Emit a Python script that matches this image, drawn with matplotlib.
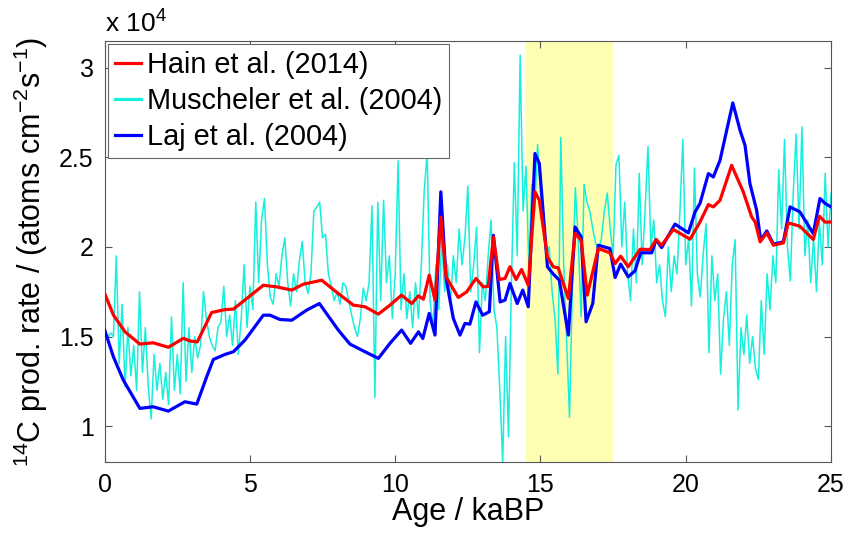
import numpy as np
import matplotlib
matplotlib.use("Agg")
import matplotlib.pyplot as plt

plt.rcParams['font.family'] = ['Liberation Sans', 'DejaVu Sans']
plt.rcParams['mathtext.fontset'] = 'custom'
plt.rcParams['mathtext.rm'] = 'Liberation Sans'
plt.rcParams['mathtext.it'] = 'Liberation Sans:italic'

# Hain et al. (2014), 14C production rate (x 10^4 atoms cm-2 s-1)
hain_age = [0, 0.30, 0.70, 1.21, 1.67, 2.19, 2.71, 2.94, 3.19, 3.68,
            4.14, 4.43, 4.89, 5.46, 5.92, 6.44, 6.84, 7.47, 8.04, 8.56,
            8.96, 9.42, 9.82, 10.22, 10.57, 10.80, 10.97, 11.17, 11.37, 11.57,
            11.75, 12.17, 12.46, 12.78, 13.03, 13.20, 13.38, 13.58, 13.78, 13.95,
            14.16, 14.35, 14.58, 14.81, 14.96, 15.24, 15.44, 15.61, 15.96, 16.19,
            16.40, 16.61, 16.99, 17.39, 17.57, 17.76, 18.02, 18.43, 18.77, 18.98,
            19.17, 19.57, 20.15, 20.49, 20.78, 20.95, 21.18, 21.58, 21.98, 22.27,
            22.39, 22.56, 22.79, 23.02, 23.36, 23.53, 23.93, 24.39, 24.60, 24.80,
            25.0]
hain_rate = [1.74, 1.62, 1.526, 1.458, 1.465, 1.44, 1.49, 1.475, 1.47, 1.634,
             1.65, 1.653, 1.712, 1.786, 1.777, 1.759, 1.792, 1.814, 1.74, 1.675,
             1.666, 1.625, 1.675, 1.731, 1.684, 1.727, 1.708, 1.842, 1.703, 2.167,
             1.833, 1.718, 1.749, 1.824, 1.777, 1.78, 2.056, 1.818, 1.824, 1.889,
             1.818, 1.874, 1.786, 2.307, 2.26, 1.944, 1.889, 1.883, 1.712, 2.075,
             2.037, 1.731, 1.991, 1.967, 1.907, 1.948, 1.889, 1.987, 1.985, 2.041,
             2.009, 2.097, 2.043, 2.139, 2.236, 2.223, 2.26, 2.455, 2.307, 2.167,
             2.139, 2.028, 2.078, 2.009, 2.022, 2.134, 2.115, 2.041, 2.171, 2.138,
             2.139]

# Laj et al. (2004)
laj_age = [0, 0.30, 0.64, 1.21, 1.67, 2.19, 2.76, 3.17, 3.51, 3.74,
           4.14, 4.43, 4.83, 5.46, 5.69, 6.03, 6.44, 6.95, 7.39, 8.04,
           8.44, 8.96, 9.42, 9.82, 10.22, 10.53, 10.80, 10.95, 11.17, 11.37,
           11.57, 11.75, 12.00, 12.23, 12.40, 12.57, 12.78, 13.01, 13.24, 13.38,
           13.61, 13.78, 13.95, 14.20, 14.39, 14.58, 14.81, 14.96, 15.24, 15.42,
           15.65, 15.96, 16.19, 16.40, 16.57, 16.80, 16.99, 17.39, 17.57, 17.76,
           18.02, 18.25, 18.45, 18.83, 18.98, 19.17, 19.63, 20.09, 20.32, 20.49,
           20.78, 20.95, 21.18, 21.62, 21.87, 22.04, 22.21, 22.44, 22.58, 22.79,
           23.02, 23.36, 23.59, 23.93, 24.39, 24.62, 24.80, 25.0]
laj_rate = [1.536, 1.387, 1.257, 1.099, 1.108, 1.084, 1.136, 1.123, 1.275, 1.372,
            1.40, 1.415, 1.48, 1.619, 1.619, 1.595, 1.591, 1.647, 1.684, 1.536,
            1.458, 1.415, 1.378, 1.462, 1.536, 1.462, 1.526, 1.489, 1.629, 1.508,
            2.307, 1.824, 1.601, 1.508, 1.573, 1.569, 1.693, 1.619, 1.638, 2.065,
            1.693, 1.703, 1.796, 1.684, 1.759, 1.666, 2.521, 2.465, 1.889, 1.852,
            1.814, 1.508, 2.111, 2.056, 1.582, 1.684, 2.009, 1.991, 1.829, 1.904,
            1.833, 1.866, 1.967, 1.967, 2.041, 1.996, 2.127, 2.078, 2.195, 2.242,
            2.409, 2.39, 2.483, 2.803, 2.65, 2.567, 2.353, 2.205, 2.037, 2.089,
            2.015, 2.028, 2.223, 2.195, 2.074, 2.27, 2.242, 2.223]

# Muscheler et al. (2004), sampled every 0.1 ka from 0 to 25 ka
muscheler_rate = [
    1.50, 1.49, 1.52, 1.50, 1.95, 1.35, 1.68, 1.22, 1.55, 1.28,
    1.45, 1.20, 1.75, 1.30, 1.55, 1.22, 1.04, 1.40, 1.20, 1.35,
    1.15, 1.30, 1.12, 1.61, 1.20, 1.40, 1.18, 1.80, 1.25, 1.55,
    1.30, 1.50, 1.38, 1.45, 1.75, 1.60, 1.50, 1.45, 1.42, 1.55,
    1.58, 1.78, 1.50, 1.62, 1.45, 1.70, 1.40, 1.60, 1.90, 1.55,
    1.78, 1.65, 2.25, 1.80, 2.15, 2.27, 1.90, 1.72, 1.68, 1.85,
    1.78, 1.95, 2.05, 1.80, 1.67, 1.85, 1.75, 1.92, 2.03, 1.80,
    1.74, 1.85, 2.20, 2.22, 2.25, 2.05, 2.07, 1.85, 1.78, 1.70,
    1.75, 1.68, 1.80, 1.78, 1.70, 1.62, 1.55, 1.50, 1.60, 1.77,
    1.70, 1.80, 2.23, 1.16, 2.25, 1.70, 2.26, 1.80, 1.95, 1.60,
    1.85, 2.48, 1.65, 1.85, 1.60, 1.75, 1.55, 1.80, 1.60, 1.90,
    2.32, 2.52, 1.70, 1.55, 1.90, 1.65, 2.05, 1.75, 1.90, 1.68,
    1.95, 1.80, 2.10, 1.90, 2.05, 2.34, 1.75, 1.90, 2.11, 1.41,
    1.80, 1.70, 1.95, 2.15, 1.65, 1.55, 1.20, 0.80, 1.50, 0.94,
    1.80, 2.47, 1.95, 3.07, 2.20, 2.45, 1.90, 2.35, 2.20, 2.57,
    2.30, 2.10, 1.95, 2.00, 1.75, 1.60, 1.29, 2.61, 1.90, 1.48,
    1.05, 1.80, 2.33, 2.04, 1.61, 2.35, 2.25, 2.20, 2.10, 2.02,
    1.98, 2.05, 2.20, 2.30, 2.10, 1.95, 2.46, 2.51, 2.00, 2.25,
    1.85, 1.70, 2.10, 1.80, 2.41, 1.90, 2.20, 2.56, 2.00, 2.15,
    1.80, 1.90, 1.70, 1.61, 2.00, 1.75, 1.95, 1.85, 2.20, 2.60,
    1.90, 2.05, 1.67, 2.44, 1.85, 1.72, 1.96, 2.13, 1.41, 1.95,
    1.70, 1.85, 1.29, 1.60, 1.75, 1.45, 1.90, 2.04, 1.09, 1.55,
    1.40, 1.62, 1.35, 1.50, 1.32, 1.26, 1.70, 1.40, 1.85, 1.65,
    1.95, 1.80, 2.43, 2.10, 2.60, 2.00, 1.81, 2.30, 2.63, 2.10,
    2.67, 1.95, 2.15, 1.80, 2.05, 1.75, 2.15, 1.90, 2.41, 2.00,
    2.30]
muscheler_age = np.arange(len(muscheler_rate)) * 0.1

shade_start, shade_end = 14.5, 17.5

fig = plt.figure(figsize=(8.49, 5.33), dpi=100)
ax = fig.add_axes([0.1233, 0.1332, 0.8555, 0.7904])

ax.axvspan(shade_start, shade_end, color='#ffffb4', lw=0, zorder=0)
l_mus, = ax.plot(muscheler_age, muscheler_rate, color='#14f0dc', lw=1.1, zorder=2)
l_laj, = ax.plot(laj_age, laj_rate, color='#0000ff', lw=2.3, zorder=3)
l_hain, = ax.plot(hain_age, hain_rate, color='#ff0000', lw=2.3, zorder=4)

ax.set_xlim(0, 25)
ax.set_ylim(0.8, 3.15)
ax.set_xticks([0, 5, 10, 15, 20, 25])
ax.set_yticks([1, 1.5, 2, 2.5, 3])
ax.set_yticklabels(['1', '1.5', '2', '2.5', '3'])
ax.tick_params(direction='in', length=5, width=0.8, top=True, right=True,
               labelsize=18, color='#555555', pad=8)
for s in ax.spines.values():
    s.set_color('#555555')
    s.set_linewidth(0.8)

ax.set_xlabel('Age / kaBP', fontsize=22)
ax.xaxis.set_label_coords(0.5, -0.083)
ax.set_ylabel(r'$^{14}$C prod. rate / (atoms cm$^{-2}$s$^{-1}$)', fontsize=22)
ax.yaxis.set_label_coords(-0.075, 0.5)

ax.text(0.0, 1.008, r'x 10$^4$', transform=ax.transAxes, fontsize=19,
        ha='left', va='bottom')

leg = ax.legend([l_hain, l_mus, l_laj],
                ['Hain et al. (2014)', 'Muscheler et al. (2004)', 'Laj et al. (2004)'],
                loc='upper left', bbox_to_anchor=(0.004, 0.993), fontsize=20.8,
                handlelength=0.9, handletextpad=0.2, borderpad=0.25,
                labelspacing=0.28, borderaxespad=0, fancybox=False, framealpha=1)
leg.get_frame().set_edgecolor('#666666')
leg.get_frame().set_linewidth(0.8)
for h in leg.get_lines():
    h.set_linewidth(2.3)

fig.savefig('out.png', dpi=100)
